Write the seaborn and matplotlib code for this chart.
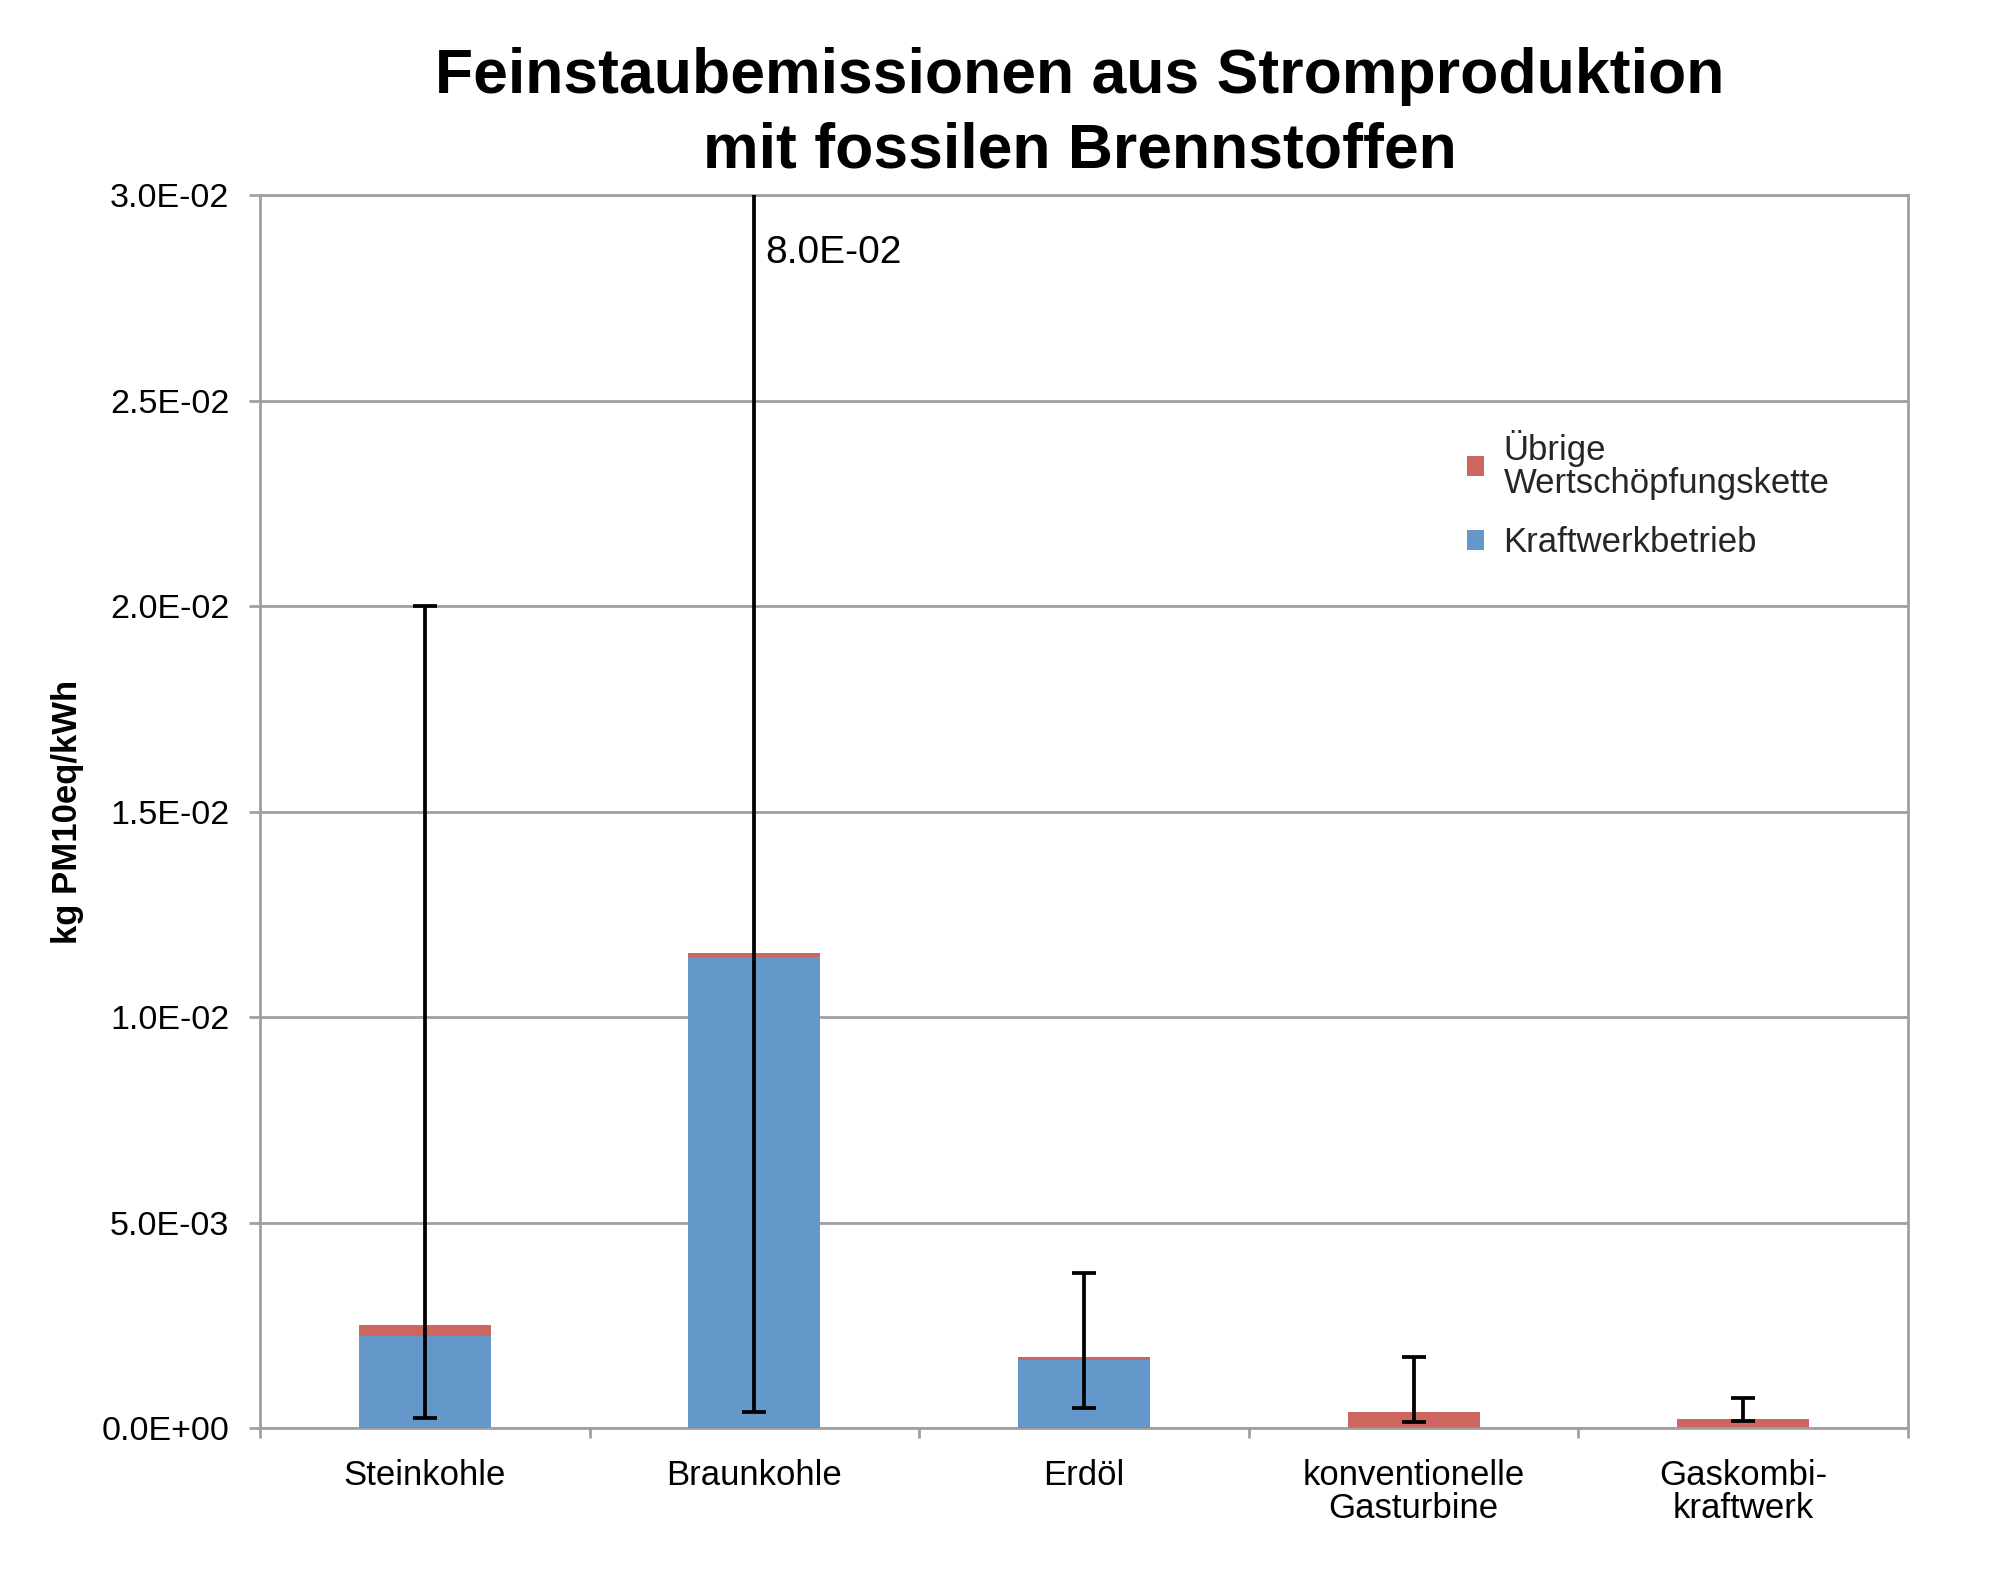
import numpy as np
import pandas as pd
import matplotlib
matplotlib.use("Agg")
import matplotlib.pyplot as plt
import seaborn as sns
from matplotlib.patches import Patch
from matplotlib.ticker import FixedLocator, FuncFormatter

# Data (kg PM10eq/kWh)
categories = ["Steinkohle", "Braunkohle", "Erdöl",
              "konventionelle\nGasturbine", "Gaskombi-\nkraftwerk"]
kraftwerk = [0.00224, 0.01145, 0.00166, 0.00003, 0.00001]
uebrige = [0.00026, 0.00012, 0.00008, 0.00036, 0.00021]
err_low = [0.00024, 0.00039, 0.00048, 0.00015, 0.00017]
err_high = [0.0200, 0.0800, 0.00377, 0.00174, 0.00074]
y_ticks = [0.0, 0.005, 0.010, 0.015, 0.020, 0.025, 0.030]

title_1 = "Feinstaubemissionen aus Stromproduktion"
title_2 = "mit fossilen Brennstoffen"
y_label = "kg PM10eq/kWh"
legend_labels = ["Übrige\nWertschöpfungskette", "Kraftwerkbetrieb"]

blue = "#6497CA"
red = "#CE6660"
grey = "#A0A0A0"

df = pd.DataFrame({
    "Kategorie": categories,
    "Kraftwerkbetrieb": kraftwerk,
    "Uebrige": uebrige,
})
df["Gesamt"] = df["Kraftwerkbetrieb"] + df["Uebrige"]

sns.set_theme(style="white")
plt.rcParams["font.family"] = ["Liberation Sans", "DejaVu Sans"]

fig = plt.figure(figsize=(20, 15.7), dpi=100)
ax = fig.add_axes([0.13, 0.0904, 0.824, 0.7854])

# stacked bars: total in red, operation part in blue on top of it
sns.barplot(data=df, x="Kategorie", y="Gesamt", color=red, width=0.4,
            saturation=1, linewidth=0, ax=ax, zorder=2)
sns.barplot(data=df, x="Kategorie", y="Kraftwerkbetrieb", color=blue, width=0.4,
            saturation=1, linewidth=0, ax=ax, zorder=3)

# error bars
xpos = np.arange(len(categories))
tot = df["Gesamt"].to_numpy()
lower = tot - np.array(err_low)
upper = np.array(err_high) - tot
ax.errorbar(xpos, tot, yerr=[lower, upper], fmt="none", ecolor="black",
            elinewidth=2.7, capsize=8.5, capthick=2.7, zorder=4)

ax.annotate("8.0E-02", xy=(1, 0.03), xytext=(8, -42), textcoords="offset points",
            ha="left", va="center", fontsize=28, color="black")

ax.set_xlim(-0.5, len(categories) - 0.5)
ax.set_ylim(0, 0.03)
ax.set_yticks(y_ticks)
ax.yaxis.set_major_formatter(FuncFormatter(lambda v, p: f"{v:.1E}"))
ax.grid(axis="y", color=grey, linewidth=2.0, zorder=0)
ax.set_axisbelow(True)

ax.xaxis.set_minor_locator(FixedLocator(np.arange(-0.5, len(categories), 1.0)))
ax.tick_params(axis="x", which="major", length=0, pad=22, labelsize=25,
               labelcolor="black")
ax.tick_params(axis="x", which="minor", bottom=True, length=7.5, width=2.0,
               color=grey)
ax.tick_params(axis="y", which="major", left=True, length=8, width=2.0,
               color=grey, pad=14, labelsize=24.5, labelcolor="black")

for side in ["left", "bottom", "right", "top"]:
    ax.spines[side].set_visible(True)
    ax.spines[side].set_color(grey)
    ax.spines[side].set_linewidth(2.0)

ax.set_xlabel("")
ax.set_ylabel("")
for lab in ax.get_xticklabels():
    lab.set_linespacing(1.0)

fig.text(67 / 2000, 1 - 812 / 1570, y_label, rotation=90, ha="center", va="center",
         fontsize=25, fontweight="bold", color="black")

fig.text(0.54, 1 - 93 / 1570, title_1, ha="center", va="baseline",
         fontsize=45, fontweight="bold", color="black")
fig.text(0.54, 1 - 167 / 1570, title_2, ha="center", va="baseline",
         fontsize=45, fontweight="bold", color="black")

handles = [Patch(facecolor=red, edgecolor="none"), Patch(facecolor=blue, edgecolor="none")]
fig.legend(handles, legend_labels, loc="upper left",
           bbox_to_anchor=(1467 / 2000, 1 - 430 / 1570), frameon=False,
           fontsize=25, handlelength=0.5, handleheight=0.5, handletextpad=0.55,
           borderpad=0, borderaxespad=0, labelspacing=0.75)
for t in fig.legends[0].get_texts():
    t.set_linespacing(1.0)

fig.savefig("out.png", dpi=100, facecolor="white")
